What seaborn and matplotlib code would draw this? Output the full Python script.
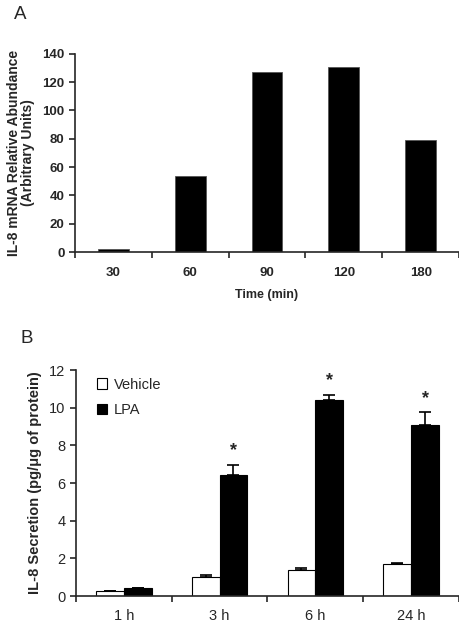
import numpy as np
import pandas as pd
import seaborn as sns
import matplotlib.pyplot as plt

sns.set_style('ticks')
plt.rcParams['font.family'] = ['Liberation Sans', 'DejaVu Sans']

# panel A data
times = ['30', '60', '90', '120', '180']
mrna = [2, 54, 127.5, 130.5, 79]

# panel B data
hours = ['1 h', '3 h', '6 h', '24 h']
vehicle = [0.27, 1.03, 1.36, 1.72]
vehicle_err = [0.0, 0.06, 0.13, 0.05]
lpa = [0.41, 6.42, 10.41, 9.06]
lpa_err = [0.0, 0.55, 0.26, 0.69]
signif = [False, True, True, True]

fig = plt.figure(figsize=(4.6, 6.23), dpi=100)
axA = fig.add_axes([0.163, 0.5955, 0.835, 0.318])
axB = fig.add_axes([0.165, 0.0433, 0.833, 0.3627])

# ---- panel A
dfa = pd.DataFrame({'time': times, 'val': mrna})
sns.barplot(data=dfa, x='time', y='val', color='black', width=0.4,
            edgecolor='#555555', linewidth=0.6, ax=axA)
axA.set_ylim(0, 140)
axA.set_xlim(-0.5, 4.5)
axA.set_yticks(range(0, 141, 20))
axA.set_xticks(np.arange(-0.5, 5, 1), minor=False)
axA.set_xticks(range(5), minor=True)
axA.set_xticklabels([])
axA.set_xticklabels(times, minor=True, fontweight='bold', fontsize=9.5)
axA.tick_params(axis='x', which='minor', length=0, pad=11)
axA.tick_params(axis='x', which='major', length=4, width=1.2)
axA.tick_params(axis='y', length=4, width=1.2, labelsize=9.5)
for t in axA.get_yticklabels():
    t.set_fontweight('bold')
axA.set_xlabel('Time (min)', fontweight='bold', fontsize=9, labelpad=7)
axA.set_ylabel('IL-8 mRNA Relative Abundance\n(Arbitrary Units)',
               fontweight='bold', fontsize=10, labelpad=5, linespacing=1.05)
sns.despine(ax=axA)
for s in ['left', 'bottom']:
    axA.spines[s].set_linewidth(1.2)
fig.text(0.03, 0.99, 'A', fontsize=13.5, va='top')

# ---- panel B
dfb = pd.DataFrame({
    'hour': hours * 2,
    'group': ['Vehicle'] * 4 + ['LPA'] * 4,
    'val': vehicle + lpa,
})
sns.barplot(data=dfb, x='hour', y='val', hue='group', width=0.58,
            palette={'Vehicle': 'white', 'LPA': 'black'},
            edgecolor='black', linewidth=0.8, errorbar=None, ax=axB)

errs = {'Vehicle': vehicle_err, 'LPA': lpa_err}
vals = {'Vehicle': vehicle, 'LPA': lpa}
for cont, name in zip(axB.containers, ['Vehicle', 'LPA']):
    xs = [p.get_x() + p.get_width() / 2 for p in cont.patches]
    axB.errorbar(xs, vals[name], yerr=[np.zeros(4), errs[name]], fmt='none',
                 ecolor='black', elinewidth=1.2, capsize=4, capthick=1.2)
    if name == 'LPA':
        for x, v, e, s in zip(xs, lpa, lpa_err, signif):
            if s:
                axB.text(x, v + e + 0.3, '*', ha='center', va='bottom',
                         fontsize=13, fontweight='bold')

axB.set_ylim(0, 12)
axB.set_xlim(-0.5, 3.5)
axB.set_yticks(range(0, 13, 2))
axB.set_xticks(np.arange(-0.5, 4, 1), minor=False)
axB.set_xticks(range(4), minor=True)
axB.set_xticklabels([])
axB.set_xticklabels(hours, minor=True, fontsize=10.5)
axB.tick_params(axis='x', which='minor', length=0, pad=9)
axB.tick_params(axis='x', which='major', length=4, width=1.2)
axB.tick_params(axis='y', length=4, width=1.2, labelsize=10.5)
axB.set_xlabel('')
axB.set_ylabel('IL-8 Secretion (pg/\u03bcg of protein)', fontweight='bold',
               fontsize=10.5, labelpad=5)
sns.despine(ax=axB)
for s in ['left', 'bottom']:
    axB.spines[s].set_linewidth(1.2)
axB.legend(loc='upper left', bbox_to_anchor=(0.02, 1.025), frameon=False,
           fontsize=10.5, handlelength=0.7, handleheight=0.7,
           handletextpad=0.5, labelspacing=0.8, title=None)
fig.text(0.045, 0.47, 'B', fontsize=13.5, va='top')

fig.savefig('out.png', dpi=100)
